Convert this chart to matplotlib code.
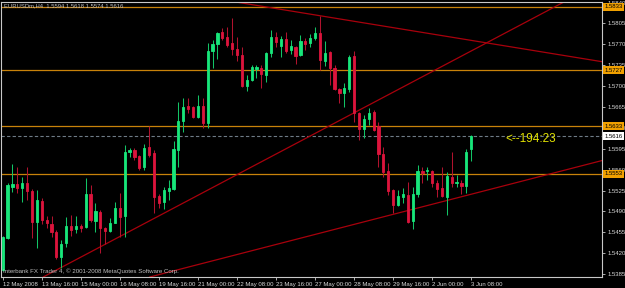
import matplotlib
matplotlib.use("Agg")
import matplotlib.pyplot as plt
import matplotlib.transforms as mtransforms

plt.rcParams['font.family'] = ['Liberation Sans', 'DejaVu Sans']

# ---------------- data (EURUSDm, H4) ----------------
opens = [1.5392, 1.5446, 1.5531, 1.5536, 1.5529, 1.5538, 1.5524, 1.5472, 1.5508, 1.5476,
         1.5469, 1.5456, 1.5414, 1.5437, 1.5466, 1.5461, 1.5466, 1.5464, 1.5519, 1.5474,
         1.5489, 1.5462, 1.5457, 1.5471, 1.5496, 1.5482, 1.5590, 1.5593, 1.5583, 1.5565,
         1.5598, 1.5588, 1.5516, 1.5506, 1.5524, 1.5528, 1.5593, 1.5642, 1.5667, 1.5665,
         1.5649, 1.5667, 1.5638, 1.5759, 1.5771, 1.5791, 1.5783, 1.5773, 1.5763, 1.5752,
         1.5700, 1.5711, 1.5729, 1.5731, 1.5719, 1.5756, 1.5783, 1.5768, 1.5779, 1.5761,
         1.5766, 1.5752, 1.5776, 1.5773, 1.5781, 1.5789, 1.5742, 1.5757, 1.5731, 1.5695,
         1.5689, 1.5695, 1.5751, 1.5655, 1.5628, 1.5645, 1.5657, 1.5633, 1.5586, 1.5558,
         1.5526, 1.5501, 1.5514, 1.5518, 1.5474, 1.5519, 1.5558, 1.5558, 1.5558, 1.5538,
         1.5529, 1.5514, 1.5548, 1.5538, 1.5538, 1.5533, 1.5594]
highs = [1.5449, 1.5538, 1.5570, 1.5565, 1.5548, 1.5565, 1.5528, 1.5526, 1.5513, 1.5482,
         1.5482, 1.5459, 1.5442, 1.5481, 1.5484, 1.5482, 1.5469, 1.5546, 1.5534, 1.5504,
         1.5493, 1.5464, 1.5479, 1.5506, 1.5521, 1.5602, 1.5597, 1.5597, 1.5585, 1.5603,
         1.5633, 1.5593, 1.5519, 1.5531, 1.5543, 1.5608, 1.5674, 1.5680, 1.5680, 1.5667,
         1.5685, 1.5680, 1.5773, 1.5778, 1.5791, 1.5798, 1.5799, 1.5815, 1.5783, 1.5766,
         1.5719, 1.5736, 1.5736, 1.5736, 1.5757, 1.5794, 1.5791, 1.5784, 1.5791, 1.5778,
         1.5768, 1.5786, 1.5781, 1.5788, 1.5799, 1.5818, 1.5776, 1.5759, 1.5736, 1.5697,
         1.5706, 1.5752, 1.5759, 1.5657, 1.5652, 1.5664, 1.5660, 1.5640, 1.5598, 1.5571,
         1.5528, 1.5526, 1.5529, 1.5539, 1.5531, 1.5568, 1.5565, 1.5565, 1.5560, 1.5543,
         1.5565, 1.5556, 1.5590, 1.5551, 1.5543, 1.5595, 1.5618]
lows = [1.5390, 1.5444, 1.5523, 1.5521, 1.5506, 1.5509, 1.5446, 1.5429, 1.5469, 1.5462,
        1.5447, 1.5410, 1.5395, 1.5430, 1.5449, 1.5454, 1.5456, 1.5462, 1.5472, 1.5456,
        1.5420, 1.5436, 1.5456, 1.5471, 1.5447, 1.5447, 1.5581, 1.5576, 1.5560, 1.5560,
        1.5581, 1.5487, 1.5496, 1.5494, 1.5509, 1.5526, 1.5565, 1.5623, 1.5655, 1.5647,
        1.5647, 1.5630, 1.5630, 1.5731, 1.5746, 1.5778, 1.5766, 1.5752, 1.5742, 1.5699,
        1.5692, 1.5709, 1.5714, 1.5697, 1.5707, 1.5749, 1.5766, 1.5749, 1.5756, 1.5754,
        1.5737, 1.5751, 1.5761, 1.5766, 1.5778, 1.5727, 1.5734, 1.5702, 1.5694, 1.5672,
        1.5665, 1.5690, 1.5640, 1.5610, 1.5613, 1.5635, 1.5625, 1.5565, 1.5548, 1.5518,
        1.5487, 1.5499, 1.5504, 1.5471, 1.5461, 1.5514, 1.5538, 1.5543, 1.5531, 1.5514,
        1.5514, 1.5484, 1.5531, 1.5531, 1.5519, 1.5521, 1.5574]
closes = [1.5447, 1.5534, 1.5536, 1.5529, 1.5538, 1.5524, 1.5472, 1.5509, 1.5476, 1.5471,
          1.5456, 1.5414, 1.5436, 1.5466, 1.5459, 1.5466, 1.5462, 1.5519, 1.5476, 1.5491,
          1.5462, 1.5457, 1.5471, 1.5496, 1.5481, 1.5590, 1.5593, 1.5581, 1.5563, 1.5597,
          1.5585, 1.5514, 1.5504, 1.5526, 1.5529, 1.5595, 1.5642, 1.5665, 1.5662, 1.5649,
          1.5667, 1.5638, 1.5759, 1.5771, 1.5789, 1.5781, 1.5769, 1.5763, 1.5752, 1.5700,
          1.5711, 1.5732, 1.5732, 1.5721, 1.5756, 1.5783, 1.5774, 1.5779, 1.5759, 1.5768,
          1.5751, 1.5776, 1.5771, 1.5781, 1.5789, 1.5744, 1.5756, 1.5731, 1.5695, 1.5689,
          1.5697, 1.5749, 1.5655, 1.5628, 1.5645, 1.5655, 1.5627, 1.5586, 1.5556, 1.5524,
          1.5501, 1.5516, 1.5519, 1.5472, 1.5519, 1.5558, 1.5555, 1.5560, 1.5538, 1.5528,
          1.5516, 1.5550, 1.5538, 1.5539, 1.5533, 1.5590, 1.5616]

date_labels = ["12 May 2008", "13 May 16:00", "15 May 00:00", "16 May 08:00", "19 May 16:00",
               "21 May 00:00", "22 May 08:00", "23 May 16:00", "27 May 00:00", "28 May 08:00",
               "29 May 16:00", "2 Jun 00:00", "3 Jun 08:00"]
date_label_bars = [0, 8, 16, 24, 32, 40, 48, 56, 64, 72, 80, 88, 96]

price_ticks = [1.5385, 1.5420, 1.5455, 1.5490, 1.5525, 1.5560, 1.5595, 1.5630,
               1.5665, 1.5700, 1.5735, 1.5770, 1.5805, 1.5840]

hlevels = [1.5833, 1.5727, 1.5633, 1.5553]
bid_price = 1.5616

# trend lines: (bar, price) anchor pairs
trend_lines = [((65, 1.5818), (122, 1.5742)),
               ((12, 1.5396), (115, 1.5841)),
               ((81.4, 1.5488), (122.7, 1.5575))]

title_text = "EURUSDm,H4  1.5594 1.5618 1.5574 1.5616"
countdown_text = "<--194:23"
countdown_pos = (102.9, 1.5611)
copyright_text = "Interbank FX Trader 4, \u00a9 2001-2008 MetaQuotes Software Corp."

# ---------------- style ----------------
BG = "#000000"
BULL = "#17e67a"
BULL_WICK = "#12c466"
BEAR = "#dc143c"
BEAR_WICK = "#b0122e"
LEVEL = "#c8820a"
LEVEL_BOX = "#f0a000"
TREND = "#a8000c"
AXIS = "#c8c8c8"
TXT = "#d8d8d8"
FS = 4.3

W, H = 625, 288
fig = plt.figure(figsize=(W / 100, H / 100), dpi=100, facecolor=BG)
ax = fig.add_axes([1 / W, 1 - 277 / H, 601 / W, 275 / H], facecolor=BG)

n = len(opens)
xs = list(range(n))

# levels
for lv in hlevels:
    ax.axhline(lv, color=LEVEL, lw=0.9, zorder=1)
ax.axhline(bid_price, color="#6e7b86", lw=0.8, ls=(0, (3, 2)), zorder=1)

# trend lines
for p1, p2 in trend_lines:
    ax.axline(p1, p2, color=TREND, lw=0.9, zorder=1.2)

# candles
for i in xs:
    o, h, l, c = opens[i], highs[i], lows[i], closes[i]
    up = c >= o
    wc = BULL_WICK if up else BEAR_WICK
    bc = BULL if up else BEAR
    ax.vlines(i, l, h, color=wc, lw=0.75, zorder=2)
    ax.bar(i, abs(c - o), bottom=min(o, c), width=0.45, color=bc,
           edgecolor=bc, linewidth=0.6, zorder=3)

ax.set_xlim(-0.35, 122.8)
ax.set_ylim(1.5380, 1.5841)

# axes styling
for s in ax.spines.values():
    s.set_color(AXIS)
    s.set_linewidth(0.8)

ax.yaxis.tick_right()
ax.set_yticks(price_ticks)
ax.set_yticklabels([f"{v:.4f}" for v in price_ticks])
ax.tick_params(axis='y', colors=AXIS, labelcolor=TXT, labelsize=FS, length=2.2,
               width=0.6, pad=2.0, direction='out')

ax.set_xticks(date_label_bars)
ax.set_xticklabels(date_labels)
ax.tick_params(axis='x', colors=AXIS, labelcolor=TXT, labelsize=FS, length=2.2,
               width=0.6, pad=1.2, direction='out')
for lbl in ax.get_xticklabels():
    lbl.set_horizontalalignment('left')

# right-side price boxes
trans = mtransforms.blended_transform_factory(ax.transAxes, ax.transData)
for lv in hlevels:
    ax.text(1.004, lv, f"{lv:.4f}", transform=trans, ha='left', va='center',
            fontsize=FS, color="#000000", clip_on=False, zorder=10,
            bbox=dict(boxstyle='square,pad=0.25', fc=LEVEL_BOX, ec='none'))
ax.text(1.004, bid_price, f"{bid_price:.4f}", transform=trans, ha='left', va='center',
        fontsize=FS, color="#000000", clip_on=False, zorder=10,
        bbox=dict(boxstyle='square,pad=0.25', fc="#ffffff", ec='none'))

# texts
ax.text(countdown_pos[0], countdown_pos[1], countdown_text, color="#e2e200",
        fontsize=8.5, ha='left', va='center', zorder=6)
fig.text(4 / W, 1 - 6 / H, title_text, color="#c0c0c0", fontsize=4.2, ha='left', va='center')
fig.text(3 / W, 1 - 271 / H, copyright_text, color="#c0c0c0", fontsize=4.4, ha='left', va='center')

fig.savefig("out.png", dpi=100, facecolor=BG)
